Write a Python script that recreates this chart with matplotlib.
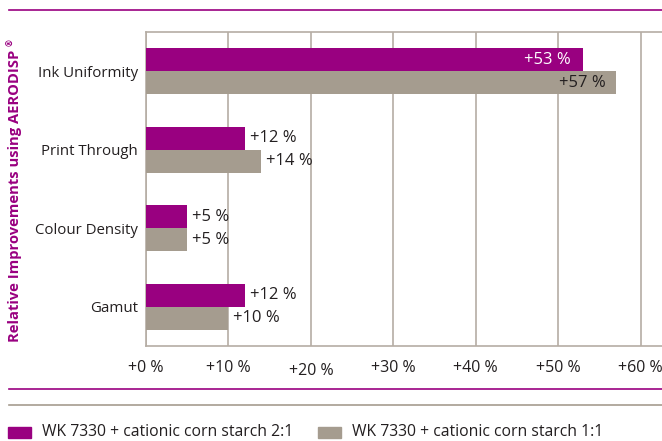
import matplotlib
matplotlib.use('Agg')
import matplotlib.pyplot as plt
from matplotlib.lines import Line2D
from matplotlib.patches import Rectangle
import matplotlib.transforms as mtransforms

# 数据
categories = ['Ink Uniformity', 'Print Through', 'Colour Density', 'Gamut']
ratio_21 = [53, 12, 5, 12]
ratio_11 = [57, 14, 5, 10]
series_names = ['WK 7330 + cationic corn starch 2:1', 'WK 7330 + cationic corn starch 1:1']
xticks = [0, 10, 20, 30, 40, 50, 60]
xtick_labels = ['+0 %', '+10 %', '+20 %', '+30 %', '+40 %', '+50 %', '+60 %']

PURPLE = '#990080'
GREY = '#A59C8F'
GRID = '#B5ADA4'
TEXT = '#231F20'

plt.rcParams['font.family'] = ['Open Sans', 'DejaVu Sans']

fig = plt.figure(figsize=(6.62, 4.41), dpi=100)
ax = fig.add_axes([146 / 662, 1 - 346 / 441, 1 - 146 / 662, (346 - 32) / 441])

h = 0.293
y = list(range(len(categories)))
ax.barh([v - h / 2 for v in y], ratio_21, height=h, color=PURPLE, zorder=3)
ax.barh([v + h / 2 for v in y], ratio_11, height=h, color=GREY, zorder=3)

ax.set_xlim(0, 62.6)
ax.set_ylim(3.5, -0.5)
ax.set_yticks(y)
ax.set_yticklabels(categories, fontsize=10.8, color=TEXT)
ax.set_xticks(xticks)
ax.set_xticklabels(xtick_labels, fontsize=11.5, color=TEXT)
ax.tick_params(length=0, pad=10)
ax.tick_params(axis='y', pad=6)
# +20 % 标签在原图中略低
lbl = ax.get_xticklabels()[2]
lbl.set_transform(lbl.get_transform() + mtransforms.ScaledTranslation(0, -3 / 100, fig.dpi_scale_trans))

ax.grid(axis='x', color=GRID, linewidth=1.2, zorder=0)
for s in ['left', 'top', 'bottom']:
    ax.spines[s].set_color(GRID)
    ax.spines[s].set_linewidth(1.2)
ax.spines['right'].set_visible(False)

# 数值标签
fs = 12
for i in y:
    a, b = ratio_21[i], ratio_11[i]
    if a > 40:
        ax.text(a - 1.5, i - h / 2, f'+{a} %', ha='right', va='center', color='white', fontsize=fs, zorder=4)
    else:
        ax.text(a + 0.6, i - h / 2, f'+{a} %', ha='left', va='center', color=TEXT, fontsize=fs, zorder=4)
    if b > 40:
        ax.text(b - 1.2, i + h / 2, f'+{b} %', ha='right', va='center', color=TEXT, fontsize=fs, zorder=4)
    else:
        ax.text(b + 0.6, i + h / 2, f'+{b} %', ha='left', va='center', color=TEXT, fontsize=fs, zorder=4)

fig.text(15 / 662, 1 - 196 / 441, 'Relative Improvements using AERODISP', rotation=90,
         ha='center', va='center', color=PURPLE, fontsize=10.6, fontweight='bold')
fig.text(11 / 662, 1 - 43 / 441, '®', rotation=90,
         ha='center', va='center', color=PURPLE, fontsize=6, fontweight='bold')

# 装饰线
fig.add_artist(Line2D([9 / 662, 1], [1 - 10 / 441] * 2, color=PURPLE, linewidth=1.2))
fig.add_artist(Line2D([9 / 662, 1], [1 - 389 / 441] * 2, color=PURPLE, linewidth=1.2))
fig.add_artist(Line2D([9 / 662, 1], [1 - 405 / 441] * 2, color=GREY, linewidth=1.2))

# 图例
for x0, col, name in [(8, PURPLE, series_names[0]), (318, GREY, series_names[1])]:
    fig.add_artist(Rectangle((x0 / 662, 1 - 438 / 441), 23 / 662, 11 / 441,
                             transform=fig.transFigure, color=col))
    fig.text((x0 + 34) / 662, 1 - 432 / 441, name, ha='left', va='center', color=TEXT, fontsize=11.3)

fig.savefig('out.png', dpi=100)
